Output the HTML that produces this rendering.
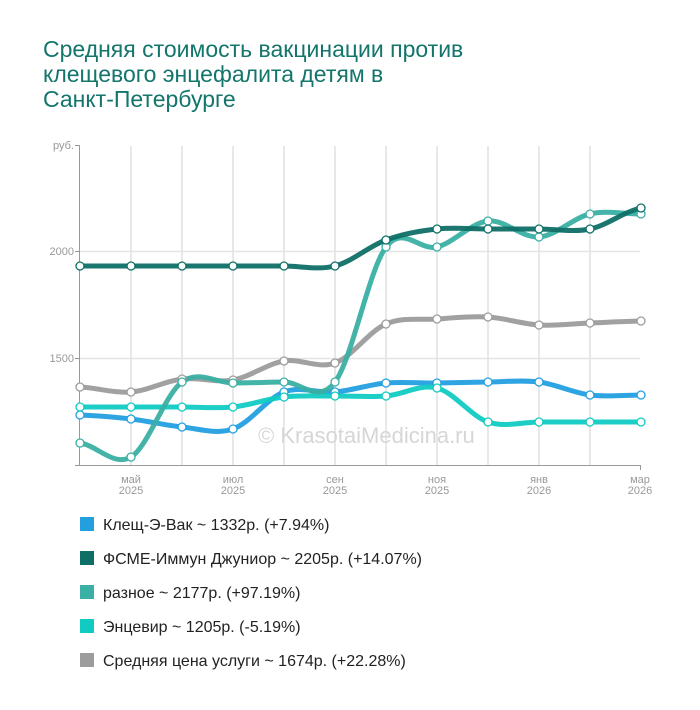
<!DOCTYPE html>
<html><head><meta charset="utf-8">
<style>
body{margin:0;background:#fff;width:700px;height:710px;overflow:hidden;font-family:"Liberation Sans",sans-serif;}
.t{position:absolute;left:43px;top:37px;font-size:23px;line-height:25px;color:#13756b;}
</style></head><body>
<div class="t">Средняя стоимость вакцинации против<br>клещевого энцефалита детям в<br>Санкт-Петербурге</div>
<svg id="s" width="700" height="710" style="position:absolute;left:0;top:0" font-family="Liberation Sans, sans-serif">
<g stroke="#d0d0d0" stroke-width="1">
<line x1="131" y1="146" x2="131" y2="465"/><line x1="182" y1="146" x2="182" y2="465"/>
<line x1="233" y1="146" x2="233" y2="465"/><line x1="284" y1="146" x2="284" y2="465"/>
<line x1="335" y1="146" x2="335" y2="465"/><line x1="386" y1="146" x2="386" y2="465"/>
<line x1="437" y1="146" x2="437" y2="465"/><line x1="488" y1="146" x2="488" y2="465"/>
<line x1="539" y1="146" x2="539" y2="465"/><line x1="590" y1="146" x2="590" y2="465"/>
</g>
<g stroke="#e4e4e4" stroke-width="1.5"><line x1="80" y1="251.5" x2="640" y2="251.5"/><line x1="80" y1="358.5" x2="640" y2="358.5"/></g>
<g stroke="#999" stroke-width="1"><line x1="79.5" y1="145" x2="79.5" y2="465"/><line x1="75" y1="465.5" x2="641" y2="465.5"/>
<line x1="75" y1="145.5" x2="80" y2="145.5"/><line x1="75" y1="251.5" x2="80" y2="251.5"/><line x1="75" y1="358.5" x2="80" y2="358.5"/>
<line x1="640.5" y1="465" x2="640.5" y2="470"/></g>
<g fill="#999" font-size="11" text-anchor="end"><text x="74" y="149">руб.</text><text x="74" y="255">2000</text><text x="74" y="362">1500</text></g>
<g fill="#999" font-size="11" text-anchor="middle">
<text x="131" y="483">май</text><text x="131" y="494">2025</text>
<text x="233" y="483">июл</text><text x="233" y="494">2025</text>
<text x="335" y="483">сен</text><text x="335" y="494">2025</text>
<text x="437" y="483">ноя</text><text x="437" y="494">2025</text>
<text x="539" y="483">янв</text><text x="539" y="494">2026</text>
<text x="640" y="483">мар</text><text x="640" y="494">2026</text></g>
<text x="258" y="443" font-size="22" fill="#d6d6d6">© KrasotaiMedicina.ru</text>
<g id="lines"></g>
<g font-size="16" fill="#222">
<rect x="80" y="517" width="14" height="14" fill="#239fe0"/><text x="103" y="530">Клещ-Э-Вак ~ 1332р. (+7.94%)</text>
<rect x="80" y="551" width="14" height="14" fill="#0e6f66"/><text x="103" y="564">ФСМЕ-Иммун Джуниор ~ 2205р. (+14.07%)</text>
<rect x="80" y="585" width="14" height="14" fill="#3aafa3"/><text x="103" y="598">разное ~ 2177р. (+97.19%)</text>
<rect x="80" y="619" width="14" height="14" fill="#10cbc2"/><text x="103" y="632">Энцевир ~ 1205р. (-5.19%)</text>
<rect x="80" y="653" width="14" height="14" fill="#9c9c9c"/><text x="103" y="666">Средняя цена услуги ~ 1674р. (+22.28%)</text>
</g>
</svg>
<script>
var S=[
["#9c9c9c",[387,392,379,380,361,363,324,319,317,325,323,321]],
["#239fe0",[415,419,427,429,392,392,383,383,382,382,395,395]],
["#10cbc2",[407,407,407,407,397,396,396,388,422,422,422,422]],
["#3aafa3",[443,457,382,383,382,382,247,247,221,237,214,214]],
["#0e6f66",[266,266,266,266,266,266,240,229,229,229,229,208]]
];
var g=document.getElementById('lines'),h='';
S.forEach(function(s){
 var y=s[1],d='M80,'+y[0],t=1/6;
 for(var i=1;i<12;i++){var x0=80+51*(i-1),x1=80+51*i;
  var ym=y[Math.max(i-2,0)],yp=y[Math.min(i+1,11)];
  var c1=y[i-1]+(y[i]-ym)*t,c2=y[i]-(yp-y[i-1])*t;
  d+=' C'+(x0+17)+','+c1.toFixed(1)+' '+(x1-17)+','+c2.toFixed(1)+' '+x1+','+y[i];}
 h+='<path d="'+d+'" fill="none" stroke="'+s[0]+'" stroke-width="5" stroke-opacity="0.95"/>';
});
S.forEach(function(s){s[1].forEach(function(v,i){h+='<circle cx="'+(80+51*i)+'" cy="'+v+'" r="4" fill="#fff" stroke="'+s[0]+'" stroke-width="1.3"/>';});});
g.innerHTML=h;
</script>
</body></html>
